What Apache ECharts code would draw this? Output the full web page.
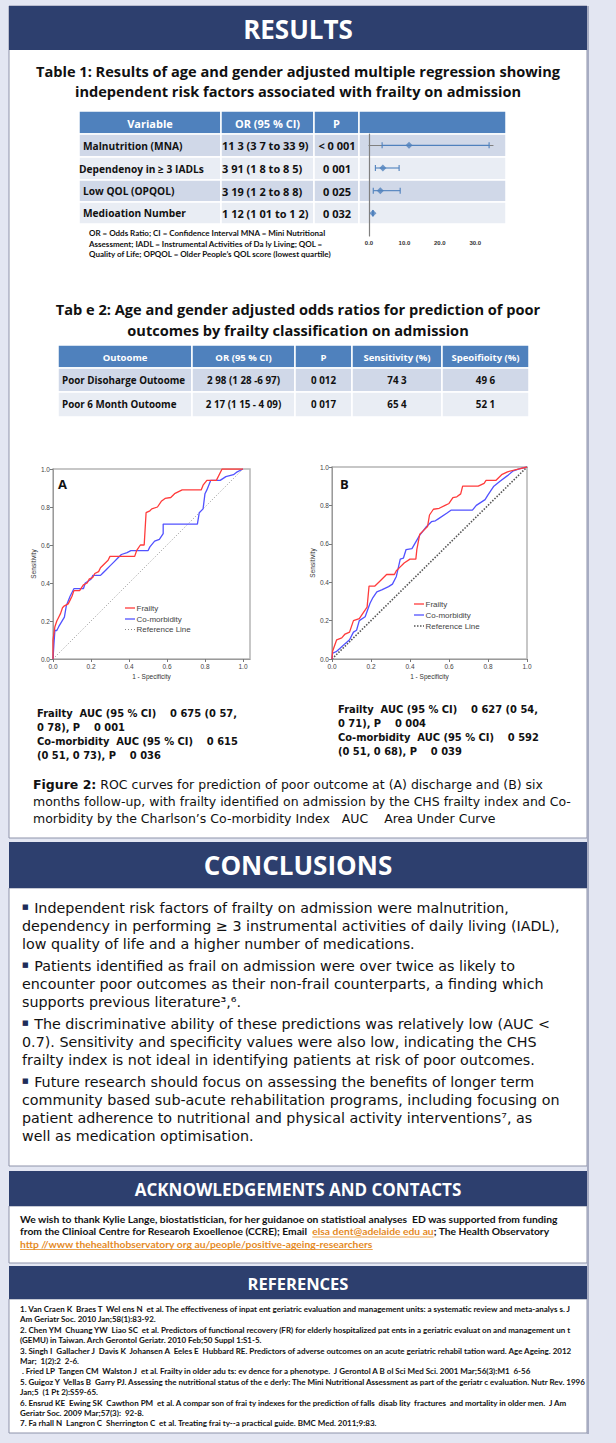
<!DOCTYPE html>
<html><head><meta charset="utf-8">
<script src="https://cdn.jsdelivr.net/npm/echarts@6/dist/echarts.min.js"></script>
<style>html,body{margin:0;padding:0;background:#e3e6f2;}#c{width:616px;height:1443px;}</style>
</head><body><div id="c"></div>
<script>
// ---------------- DATA ----------------
const t1Headers = ['Variable', 'OR (95 % CI)', 'P'];
const t1Variables = ['Malnutrition (MNA)', 'Dependenoy in \u2265 3 IADLs', 'Low QOL (OPQOL)', 'Medioation Number'];
const t1ORText = ['11 3 (3 7 to 33 9)', '3 91 (1 8 to 8 5)', '3 19 (1 2 to 8 8)', '1 12 (1 01 to 1 2)'];
const t1PText = ['< 0 001', '0 001', '0 025', '0 032'];
const orValues = [11.3, 3.91, 3.19, 1.12];
const ciLow = [3.7, 1.8, 1.2, 1.01];
const ciHigh = [33.9, 8.5, 8.8, 1.2];
const forestTicks = ['0.0', '10.0', '20.0', '30.0'];

const t2Headers = ['Outoome', 'OR (95 % CI)', 'P', 'Sensitivity (%)', 'Speoifioity (%)'];
const t2Outcomes = ['Poor Disoharge Outoome', 'Poor 6 Month Outoome'];
const t2OR = ['2 98 (1 28 -6 97)', '2 17 (1 15 - 4 09)'];
const t2P = ['0 012', '0 017'];
const t2Sens = ['74 3', '65 4'];
const t2Spec = ['49 6', '52 1'];

const rocTicks = ['0.0', '0.2', '0.4', '0.6', '0.8', '1.0'];
const legendNames = ['Frailty', 'Co-morbidity', 'Reference Line'];
const frailtyA = [[0,0],[0,0.1],[0.01,0.17],[0.02,0.2],[0.03,0.22],[0.04,0.24],[0.05,0.27],[0.06,0.28],[0.08,0.29],[0.09,0.31],[0.1,0.33],[0.11,0.36],[0.14,0.36],[0.16,0.39],[0.18,0.40],[0.19,0.42],[0.21,0.43],[0.22,0.45],[0.24,0.46],[0.25,0.48],[0.27,0.50],[0.29,0.52],[0.3,0.54],[0.43,0.54],[0.44,0.57],[0.46,0.60],[0.48,0.60],[0.49,0.77],[0.51,0.78],[0.52,0.79],[0.55,0.80],[0.57,0.83],[0.59,0.845],[0.62,0.85],[0.64,0.87],[0.68,0.89],[0.78,0.89],[0.79,0.915],[0.81,0.94],[0.86,0.94],[0.89,1.0],[1,1]];
const comorbA = [[0,0],[0.005,0.08],[0.01,0.15],[0.02,0.15],[0.03,0.17],[0.06,0.22],[0.07,0.28],[0.09,0.33],[0.11,0.37],[0.16,0.37],[0.17,0.4],[0.2,0.42],[0.21,0.44],[0.25,0.44],[0.26,0.45],[0.28,0.47],[0.3,0.49],[0.32,0.51],[0.34,0.53],[0.36,0.55],[0.39,0.56],[0.41,0.57],[0.5,0.57],[0.51,0.59],[0.535,0.62],[0.56,0.63],[0.58,0.66],[0.58,0.71],[0.76,0.71],[0.77,0.77],[0.79,0.79],[0.80,0.87],[0.81,0.89],[0.82,0.915],[0.83,0.94],[0.88,0.94],[0.91,0.96],[0.95,0.97],[0.97,0.985],[1,1]];
const frailtyB = [[0,0],[0.003,0.04],[0.024,0.10],[0.05,0.11],[0.067,0.13],[0.09,0.14],[0.11,0.20],[0.14,0.21],[0.16,0.24],[0.18,0.27],[0.19,0.38],[0.22,0.38],[0.24,0.40],[0.28,0.44],[0.32,0.44],[0.33,0.46],[0.35,0.48],[0.37,0.50],[0.40,0.52],[0.43,0.52],[0.435,0.57],[0.45,0.65],[0.47,0.67],[0.49,0.69],[0.50,0.75],[0.52,0.78],[0.55,0.785],[0.58,0.80],[0.60,0.81],[0.62,0.84],[0.64,0.845],[0.66,0.86],[0.67,0.90],[0.75,0.90],[0.78,0.915],[0.79,0.93],[0.84,0.93],[0.87,0.96],[0.90,0.975],[0.96,0.99],[1,1]];
const comorbB = [[0,0],[0.003,0.03],[0.024,0.04],[0.04,0.055],[0.067,0.08],[0.09,0.10],[0.11,0.14],[0.126,0.15],[0.14,0.20],[0.17,0.22],[0.195,0.29],[0.21,0.32],[0.23,0.35],[0.255,0.36],[0.29,0.377],[0.31,0.39],[0.33,0.43],[0.35,0.52],[0.366,0.525],[0.38,0.57],[0.41,0.575],[0.43,0.61],[0.45,0.645],[0.485,0.69],[0.51,0.715],[0.53,0.72],[0.545,0.73],[0.59,0.76],[0.61,0.775],[0.72,0.775],[0.74,0.80],[0.785,0.83],[0.80,0.855],[0.83,0.90],[0.86,0.925],[0.90,0.955],[0.93,0.98],[0.96,0.99],[1,1]];
const refLine = [[0,0],[1,1]];

const aucA = ['Frailty  AUC (95 % CI)    0 675 (0 57,', '0 78), P    0 001', 'Co-morbidity  AUC (95 % CI)    0 615', '(0 51, 0 73), P    0 036'];
const aucB = ['Frailty  AUC (95 % CI)    0 627 (0 54,', '0 71), P    0 004', 'Co-morbidity  AUC (95 % CI)    0 592', '(0 51, 0 68), P    0 039'];

// ---------------- STYLE / LAYOUT ----------------
const OS = "'Open Sans', 'DejaVu Sans', sans-serif";
const DV = "'DejaVu Sans', sans-serif";
const LT = "Lato, 'Open Sans', sans-serif";
const NAVY = '#2d3f6e', BLUE = '#4f81bd', ROW_D = '#d0d8e8', ROW_L = '#e9edf4', BORDER = '#8e93aa';
const RED = '#ff3b3b', BLU = '#5252ff';
const mctx = document.createElement('canvas').getContext('2d');
function tw(s, f) { mctx.font = f; return mctx.measureText(s).width; }
// font size that makes a line as wide as in the poster, capped
function fit(s, weight, family, target, maxSize) {
  const w = tw(s, weight + ' 20px ' + family);
  return Math.min(maxSize, +(20 * target / w).toFixed(2));
}

const g = [];
function rect(x, y, w, h, fill, stroke, lw, z) {
  g.push({ type: 'rect', silent: true, z: z == null ? -5 : z, shape: { x, y, width: w, height: h },
    style: { fill: fill, stroke: stroke || null, lineWidth: lw || 0 } });
}
function txt(x, y, s, font, fill, align, extra) {
  const m = /([\d.]+)px/.exec(font);
  const size = m ? parseFloat(m[1]) : 12;
  g.push({ type: 'text', silent: true, z: 20, x: x, y: y,
    style: Object.assign({ text: s, font: font, fill: fill || '#000', align: align || 'left', verticalAlign: 'middle',
      textAlign: align || 'left', textVerticalAlign: 'middle', lineHeight: Math.round(size * 1.05) }, extra || {}) });
}
function ln(x1, y1, x2, y2, c, w, dash) {
  g.push({ type: 'line', silent: true, z: 20, shape: { x1, y1, x2, y2 }, style: { stroke: c, lineWidth: w || 1, lineDash: dash || null } });
}

// panels
rect(9, 6, 578, 832, '#fff', BORDER, 1, -10);
rect(9, 6, 578, 44, NAVY, null, 0, -9);
txt(298, 29, 'RESULTS', 'bold 26px ' + OS, '#fff', 'center');
rect(9, 842, 578, 46, NAVY, null, 0, -9);
txt(298, 865, 'CONCLUSIONS', 'bold 26px ' + OS, '#fff', 'center');
rect(9, 888, 578, 278, '#fff', BORDER, 1, -10);
rect(9, 1171, 578, 35, NAVY, null, 0, -9);
txt(298, 1189, 'ACKNOWLEDGEMENTS AND CONTACTS', 'bold 17px ' + OS, '#fff', 'center');
rect(9, 1206, 578, 57, '#fff', BORDER, 1, -10);
rect(9, 1266, 578, 33, NAVY, null, 0, -9);
txt(298, 1283, 'REFERENCES', 'bold 16.5px ' + OS, '#fff', 'center');
rect(9, 1299, 578, 134, '#fff', BORDER, 1, -10);
rect(587, 6, 2, 1428, '#a7acc2', null, 0, -9);

// Table 1
const t1Title = ['Table 1: Results of age and gender adjusted multiple regression showing', 'independent risk factors associated with frailty on admission'];
const titleSize = fit(t1Title[0], 'bold', OS, 530, 14.6);
txt(298, 71, t1Title[0], 'bold ' + titleSize + 'px ' + OS, '#111', 'center');
txt(298, 91, t1Title[1], 'bold ' + titleSize + 'px ' + OS, '#111', 'center');
const t1Cols = [79, 221, 314, 359, 506];
const t1Rows = [111, 134, 157, 180, 202, 224];
for (let r = 0; r < 5; r++) {
  for (let c = 0; c < 4; c++) {
    const fill = r === 0 ? BLUE : (r % 2 === 1 ? ROW_D : ROW_L);
    rect(t1Cols[c], t1Rows[r], t1Cols[c + 1] - t1Cols[c], t1Rows[r + 1] - t1Rows[r], fill, '#fff', 1.5, -4);
  }
}
t1Headers.forEach((h, c) => txt((t1Cols[c] + t1Cols[c + 1]) / 2, 123, h, 'bold 11px ' + OS, '#fff', 'center'));
for (let i = 0; i < 4; i++) {
  const yc = (t1Rows[i + 1] + t1Rows[i + 2]) / 2;
  txt(i === 1 ? 79 : 83, yc, t1Variables[i], 'bold 10.2px ' + OS, '#111', 'left');
  txt(222, yc, t1ORText[i], 'bold 11px ' + OS, '#111', 'left');
  txt(337, yc, t1PText[i], 'bold 11px ' + OS, '#111', 'center');
}
['OR = Odds Ratio; CI = Confidence Interval MNA = Mini Nutritional',
 'Assessment; IADL = Instrumental Activities of Da ly Living; QOL =',
 'Quality of Life; OPQOL = Older People\u2019s QOL score (lowest quartile)'].forEach((s, i) =>
  txt(89, 233 + i * 10.5, s, 'bold 8px ' + LT, '#111', 'left'));

// Table 2
txt(298, 309, 'Tab e 2: Age and gender adjusted odds ratios for prediction of poor', 'bold ' + titleSize + 'px ' + OS, '#111', 'center');
txt(298, 330, 'outcomes by frailty classification on admission', 'bold ' + titleSize + 'px ' + OS, '#111', 'center');
const t2Cols = [58, 192, 295, 352, 442, 529];
const t2Rows = [345, 368, 392, 417];
const t2Body = [t2Outcomes, t2OR, t2P, t2Sens, t2Spec];
for (let r = 0; r < 3; r++) {
  for (let c = 0; c < 5; c++) {
    const fill = r === 0 ? BLUE : (r === 1 ? ROW_D : ROW_L);
    rect(t2Cols[c], t2Rows[r], t2Cols[c + 1] - t2Cols[c], t2Rows[r + 1] - t2Rows[r], fill, '#fff', 1.5, -4);
  }
}
t2Headers.forEach((h, c) => txt((t2Cols[c] + t2Cols[c + 1]) / 2, 357, h, 'bold 9.5px ' + OS, '#fff', 'center'));
for (let r = 0; r < 2; r++) {
  const yc = (t2Rows[r + 1] + t2Rows[r + 2]) / 2;
  t2Body.forEach((col, c) => {
    if (c === 0) txt(62, yc, col[r], 'bold 9.8px ' + OS, '#111', 'left');
    else txt((t2Cols[c] + t2Cols[c + 1]) / 2, yc, col[r], 'bold 9.8px ' + OS, '#111', 'center');
  });
}

// ROC panel labels and legends
txt(58, 484, 'A', 'bold 13px ' + OS, '#111', 'left');
txt(340, 484, 'B', 'bold 13px ' + OS, '#111', 'left');
const legA = { x: 125, y: [608, 619, 629.5], styles: [[RED, 1.3, null], [BLU, 1.3, null], ['#888', 1, [1, 2]]] };
const legB = { x: 414, y: [604, 615, 626], styles: [[RED, 1.3, null], [BLU, 1.3, null], ['#555', 1.6, [1.5, 1.5]]] };
[legA, legB].forEach(L => legendNames.forEach((nm, i) => {
  const s = L.styles[i];
  ln(L.x, L.y[i], L.x + 10, L.y[i], s[0], s[1], s[2]);
  txt(L.x + 11.5, L.y[i], nm, '8px Arial, sans-serif', '#444', 'left');
}));
const aucSize = fit(aucA[0], 'bold', DV, 200, 11.5);
aucA.forEach((s, i) => txt(37, 713 + i * 14, s, 'bold ' + aucSize + 'px ' + DV, '#111', 'left'));
aucB.forEach((s, i) => txt(338, 709 + i * 14, s, 'bold ' + aucSize + 'px ' + DV, '#111', 'left'));

// Figure caption
const cap = ['Figure 2:', ' ROC curves for prediction of poor outcome at (A) discharge and (B) six',
  'months follow-up, with frailty identified on admission by the CHS frailty index and Co-',
  'morbidity by the Charlson\u2019s Co-morbidity Index   AUC    Area Under Curve'];
const capSize = fit(cap[2], 'normal', DV, 542, 12.5);
const capRich = { b: { fontFamily: DV, fontSize: capSize, fontWeight: 'bold', fill: '#111', lineHeight: 14 }, n: { fontFamily: DV, fontSize: capSize, fill: '#111', lineHeight: 14 } };
txt(33, 784, '{b|' + cap[0] + '}{n|' + cap[1] + '}', capSize + 'px ' + DV, '#111', 'left', { rich: capRich, lineHeight: 14 });
txt(33, 801, '{n|' + cap[2] + '}', capSize + 'px ' + DV, '#111', 'left', { rich: capRich, lineHeight: 14 });
txt(33, 818, '{n|' + cap[3] + '}', capSize + 'px ' + DV, '#111', 'left', { rich: capRich, lineHeight: 14 });

// Conclusions
const concl = [
  ['\u25A0', ' Independent risk factors of frailty on admission were malnutrition,'],
  ['', 'dependency in performing \u2265 3 instrumental activities of daily living (IADL),'],
  ['', 'low quality of life and a higher number of medications.'],
  ['\u25A0', ' Patients identified as frail on admission were over twice as likely to'],
  ['', 'encounter poor outcomes as their non-frail counterparts, a finding which'],
  ['', 'supports previous literature\u00B3,\u2076.'],
  ['\u25A0', ' The discriminative ability of these predictions was relatively low (AUC <'],
  ['', '0.7). Sensitivity and specificity values were also low, indicating the CHS'],
  ['', 'frailty index is not ideal in identifying patients at risk of poor outcomes.'],
  ['\u25A0', ' Future research should focus on assessing the benefits of longer term'],
  ['', 'community based sub-acute rehabilitation programs, including focusing on'],
  ['', 'patient adherence to nutritional and physical activity interventions\u2077, as'],
  ['', 'well as medication optimisation.']];
const conclY = [908, 926, 944, 966, 984, 1002, 1024, 1042, 1060, 1082, 1100, 1118, 1136];
const cSize = fit(concl[1][1], 'normal', DV, 538, 15);
const conclRich = {
  bl: { fontFamily: DV, fontSize: 7, fill: '#1f2d5a', lineHeight: 15, padding: [0, 1, 2, 0] },
  t: { fontFamily: DV, fontSize: cSize, fill: '#111', lineHeight: 15 } };
concl.forEach((p, i) => txt(22, conclY[i], (p[0] ? '{bl|' + p[0] + '}' : '') + '{t|' + p[1] + '}', cSize + 'px ' + DV, '#111', 'left', { rich: conclRich, lineHeight: 15 }));

// Acknowledgements
const ack1 = 'We wish to thank Kylie Lange, biostatistician, for her guidanoe on statistioal analyses  ED was supported from funding';
const ackSize = Math.min(fit(ack1, 'bold', LT, 543, 10.3), 10.3);
const ackF = 'bold ' + ackSize + 'px ' + LT;
txt(20, 1218.5, ack1, ackF, '#111', 'left', { lineHeight: 11 });
const ack2a = 'from the Clinioal Centre for Researoh Exoellenoe (CCRE); Email  ';
const ack2b = 'elsa dent@adelaide edu au';
const ack2c = '; The Health Observatory';
const ackRich = { n: { fontFamily: LT, fontSize: ackSize, fontWeight: 'bold', fill: '#111', lineHeight: 11 }, l: { fontFamily: LT, fontSize: ackSize, fontWeight: 'bold', fill: '#e58a1f', lineHeight: 11 } };
txt(20, 1231, '{n|' + ack2a + '}{l|' + ack2b + '}{n|' + ack2c + '}', ackF, '#111', 'left', { rich: ackRich, lineHeight: 11 });
const ux = 20 + tw(ack2a, ackF);
ln(ux, 1237, ux + tw(ack2b, ackF), 1237, '#e58a1f', 0.8);
const ack3 = 'http //www thehealthobservatory org au/people/positive-ageing-researchers';
txt(20, 1243.5, ack3, ackF, '#e58a1f', 'left', { lineHeight: 11 });
ln(20, 1249.5, 20 + tw(ack3, ackF), 1249.5, '#e58a1f', 0.8);

// References
const refs = [
  '1. Van Craen K  Braes T  Wel ens N  et al. The effectiveness of inpat ent geriatric evaluation and management units: a systematic review and meta-analys s. J',
  'Am Geriatr Soc. 2010 Jan;58(1):83-92.',
  '2. Chen YM  Chuang YW  Liao SC  et al. Predictors of functional recovery (FR) for elderly hospitalized pat ents in a geriatric evaluat on and management un t',
  '(GEMU) in Taiwan. Arch Gerontol Geriatr. 2010 Feb;50 Suppl 1:S1-5.',
  '3. Singh I  Gallacher J  Davis K  Johansen A  Eeles E  Hubbard RE. Predictors of adverse outcomes on an acute geriatric rehabil tation ward. Age Ageing. 2012',
  'Mar;  1(2):2  2-6.',
  ' . Fried LP  Tangen CM  Walston J  et al. Frailty in older adu ts: ev dence for a phenotype.  J Gerontol A B ol Sci Med Sci. 2001 Mar;56(3):M1  6-56',
  '5. Guigoz Y  Vellas B  Garry PJ. Assessing the nutritional status of the e derly: The Mini Nutritional Assessment as part of the geriatr c evaluation. Nutr Rev. 1996',
  'Jan;5  (1 Pt 2):S59-65.',
  '6. Ensrud KE  Ewing SK  Cawthon PM  et al. A compar son of frai ty indexes for the prediction of falls  disab lity  fractures  and mortality in older men.  J Am',
  'Geriatr Soc. 2009 Mar;57(3):  92-8.',
  '7. Fa rhall N  Langron C  Sherrington C  et al. Treating frai ty--a practical guide. BMC Med. 2011;9:83.'];
const refSize = fit(refs[0], 'bold', LT, 552, 8.4);
refs.forEach((s, i) => txt(20, 1309 + i * 10.4, s, 'bold ' + refSize + 'px ' + LT, '#111', 'left', { lineHeight: 10 }));

// ---------------- CHART ----------------
const chart = echarts.init(document.getElementById('c'), null, { renderer: 'svg', width: 616, height: 1443 });
function rocX(gi, name) {
  return { type: 'value', gridIndex: gi, min: 0, max: gi === 1 ? 1.037 : 1, interval: 0.2,
    axisLine: { show: true, lineStyle: { color: '#9a9a9a', width: 1 } },
    axisTick: { show: true, length: 3, lineStyle: { color: '#777' } },
    axisLabel: { fontSize: 6.5, color: '#444', margin: 4, showMaxLabel: gi === 2, fontFamily: 'Arial',
      formatter: v => rocTicks[Math.round(v / 0.2)] || '' },
    splitLine: { show: false },
    name: name, nameLocation: 'middle', nameGap: 14, nameTextStyle: { fontSize: 6.5, color: '#333', fontFamily: 'Arial' } };
}
function rocY(gi) {
  return { type: 'value', gridIndex: gi, min: 0, max: 1, interval: 0.2,
    axisLine: { show: true, lineStyle: { color: '#9a9a9a', width: 1 } },
    axisTick: { show: true, length: 3, lineStyle: { color: '#777' } },
    axisLabel: { fontSize: 6.5, color: '#444', margin: 3, fontFamily: 'Arial', formatter: v => rocTicks[Math.round(v / 0.2)] },
    splitLine: { show: false },
    name: 'Sensitivity', nameLocation: 'middle', nameRotate: 90, nameGap: 16, nameTextStyle: { fontSize: 6.5, color: '#333', fontFamily: 'Arial' } };
}

chart.setOption({
  animation: false,
  backgroundColor: 'transparent',
  grid: [
    { left: 369, top: 134, width: 124, height: 102, show: false },
    { left: 53, top: 469, width: 197, height: 190, show: true, borderColor: '#b5b5b5', borderWidth: 1.5, backgroundColor: '#fff' },
    { left: 332, top: 467, width: 195, height: 192, show: true, borderColor: '#b5b5b5', borderWidth: 1.5, backgroundColor: '#fff' }
  ],
  xAxis: [
    { type: 'value', gridIndex: 0, min: 0, max: 35, interval: 10,
      axisLine: { show: true, lineStyle: { color: '#808080', width: 1.2 } }, axisTick: { show: false },
      axisLabel: { fontSize: 6, fontWeight: 'bold', color: '#333', margin: 4, showMaxLabel: false, fontFamily: 'Arial',
        formatter: v => forestTicks[Math.round(v / 10)] || '' },
      splitLine: { show: false } },
    rocX(1, '1 - Specificity'),
    rocX(2, '1 - Specificity')
  ],
  yAxis: [
    { type: 'value', gridIndex: 0, min: -0.5, max: 4, inverse: true,
      axisLine: { show: true, lineStyle: { color: '#808080', width: 1.2 } }, axisTick: { show: false },
      axisLabel: { show: false }, splitLine: { show: false } },
    rocY(1), rocY(2)
  ],
  graphic: g,
  series: [
    { type: 'custom', xAxisIndex: 0, yAxisIndex: 0, z: 5, silent: true,
      data: ciLow.map((l, i) => [l, ciHigh[i], i]),
      encode: { x: [0, 1], y: 2 },
      renderItem: function (params, api) {
        const p1 = api.coord([api.value(0), api.value(2)]);
        const p2 = api.coord([api.value(1), api.value(2)]);
        const st = { stroke: BLUE, lineWidth: 1.1 };
        return { type: 'group', children: [
          { type: 'line', shape: { x1: p1[0], y1: p1[1], x2: p2[0], y2: p2[1] }, style: st },
          { type: 'line', shape: { x1: p1[0], y1: p1[1] - 3, x2: p1[0], y2: p1[1] + 3 }, style: st },
          { type: 'line', shape: { x1: p2[0], y1: p2[1] - 3, x2: p2[0], y2: p2[1] + 3 }, style: st }
        ] };
      } },
    { type: 'scatter', xAxisIndex: 0, yAxisIndex: 0, z: 6, silent: true, symbol: 'diamond', symbolSize: 7,
      itemStyle: { color: BLUE }, data: orValues.map((v, i) => [v, i]) },
    { name: 'Frailty', type: 'line', xAxisIndex: 1, yAxisIndex: 1, data: frailtyA, symbol: 'none', silent: true, z: 4,
      lineStyle: { color: RED, width: 1.3 }, itemStyle: { color: RED } },
    { name: 'Co-morbidity', type: 'line', xAxisIndex: 1, yAxisIndex: 1, data: comorbA, symbol: 'none', silent: true, z: 3,
      lineStyle: { color: BLU, width: 1.3 }, itemStyle: { color: BLU } },
    { name: 'Reference Line', type: 'line', xAxisIndex: 1, yAxisIndex: 1, data: refLine, symbol: 'none', silent: true, z: 2,
      lineStyle: { color: '#888', width: 0.9, type: [1, 2] }, itemStyle: { color: '#888' } },
    { name: 'Frailty', type: 'line', xAxisIndex: 2, yAxisIndex: 2, data: frailtyB, symbol: 'none', silent: true, z: 4,
      lineStyle: { color: RED, width: 1.3 }, itemStyle: { color: RED } },
    { name: 'Co-morbidity', type: 'line', xAxisIndex: 2, yAxisIndex: 2, data: comorbB, symbol: 'none', silent: true, z: 3,
      lineStyle: { color: BLU, width: 1.3 }, itemStyle: { color: BLU } },
    { name: 'Reference Line', type: 'line', xAxisIndex: 2, yAxisIndex: 2, data: refLine, symbol: 'none', silent: true, z: 2,
      lineStyle: { color: '#555', width: 1.6, type: [1.5, 1.5] }, itemStyle: { color: '#555' } }
  ]
});
</script></body></html>
